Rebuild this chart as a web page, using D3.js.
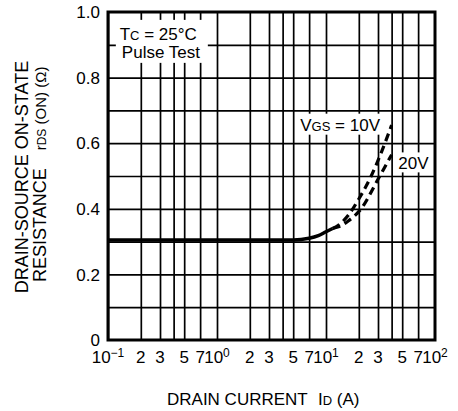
<!DOCTYPE html>
<html>
<head>
<meta charset="utf-8">
<script src="https://cdn.jsdelivr.net/npm/d3@7"></script>
<style>
body { margin: 0; background: #fff; }
text { font-family: "Liberation Sans", Arial, sans-serif; fill: #000; }
</style>
</head>
<body>
<svg></svg>
<script>
// drain current (A) vs on-state resistance (ohm)
var idSolid = [0.1, 1, 5, 7, 8.5, 10, 11.5];
var rSolid  = [0.305, 0.305, 0.305, 0.31, 0.318, 0.33, 0.34];
var id10 = [11.5, 13, 16, 20, 26, 32, 40];
var r10  = [0.34, 0.35, 0.38, 0.43, 0.50, 0.57, 0.655];
var id20 = [11.5, 13, 16, 21, 30, 40];
var r20  = [0.34, 0.345, 0.363, 0.40, 0.49, 0.565];

var decades = [0.1, 1, 10];
var gridMult = [1, 2, 3, 4, 5, 7];
var labelMult = [1, 2, 3, 5, 7];
var yGrid = [0.1, 0.2, 0.3, 0.4, 0.5, 0.6, 0.7, 0.8, 0.9];
var yTicks = [0, 0.2, 0.4, 0.6, 0.8, 1.0];
var yLabels = ["0", "0.2", "0.4", "0.6", "0.8", "1.0"];

var W = 458, H = 411;
var margin = {top: 12, right: 23, bottom: 71, left: 108};
var width = W - margin.left - margin.right;
var height = H - margin.top - margin.bottom;

var x = d3.scaleLog().domain([0.1, 100]).range([0, width]);
var y = d3.scaleLinear().domain([0, 1]).range([height, 0]);

var xGridVals = [];
decades.forEach(function(d) { gridMult.forEach(function(m) { xGridVals.push(d * m); }); });
var xLabelVals = [];
decades.forEach(function(d) { labelMult.forEach(function(m) { xLabelVals.push(d * m); }); });
xLabelVals.push(100);

var svg = d3.select("svg").attr("width", W).attr("height", H);
var g = svg.append("g").attr("transform", "translate(" + margin.left + "," + margin.top + ")");

// grid lines
g.append("g").attr("class", "grid").attr("transform", "translate(0," + height + ")")
	.call(d3.axisBottom(x).tickValues(xGridVals).tickSize(-height).tickFormat(""));
g.append("g").attr("class", "grid")
	.call(d3.axisLeft(y).tickValues(yGrid).tickSize(-width).tickFormat(""));
g.selectAll(".grid .domain").remove();
g.selectAll(".grid line").attr("stroke", "#000").attr("stroke-width", 1.7);

// white boxes behind the notes
g.append("rect").attr("x", x(0.118)).attr("y", y(0.976)).attr("width", 92).attr("height", 43).attr("fill", "#fff");
g.append("rect").attr("x", x(5.6)).attr("y", y(0.69)).attr("width", 88).attr("height", 21).attr("fill", "#fff");
g.append("rect").attr("x", x(44)).attr("y", y(0.572)).attr("width", 37).attr("height", 20).attr("fill", "#fff");

// frame
g.append("rect").attr("width", width).attr("height", height)
	.attr("fill", "none").attr("stroke", "#000").attr("stroke-width", 3);

var line = d3.line()
	.curve(d3.curveMonotoneX)
	.x(function(d) { return x(d[0]); })
	.y(function(d) { return y(d[1]); });

function pts(a, b) { return a.map(function(v, i) { return [v, b[i]]; }); }

g.append("path").attr("d", line(pts(idSolid, rSolid)))
	.attr("fill", "none").attr("stroke", "#000").attr("stroke-width", 3.5);
g.append("path").attr("d", line(pts(id10, r10)))
	.attr("fill", "none").attr("stroke", "#000").attr("stroke-width", 3.2).attr("stroke-dasharray", "8,5");
g.append("path").attr("d", line(pts(id20, r20)))
	.attr("fill", "none").attr("stroke", "#000").attr("stroke-width", 3.2).attr("stroke-dasharray", "8,5");

// y tick labels
g.selectAll(".ylab").data(yTicks).enter().append("text")
	.attr("x", -8).attr("y", function(d) { return y(d); }).attr("dy", "0.36em")
	.attr("text-anchor", "end").style("font-size", "17px")
	.text(function(d, i) { return yLabels[i]; });

// x tick labels
var xl = g.selectAll(".xlab").data(xLabelVals).enter().append("text")
	.attr("x", function(d) { return x(d); }).attr("y", height + 23)
	.attr("text-anchor", "middle").style("font-size", "17px");
xl.each(function(d) {
	var e = Math.round(Math.log10(d));
	var t = d3.select(this);
	if (Math.abs(Math.pow(10, e) - d) < 1e-9) {
		t.append("tspan").text("10");
		t.append("tspan").attr("dy", -6).style("font-size", "12px").text(e < 0 ? "\u2212" + (-e) : e);
	} else {
		t.text(Math.round(d / Math.pow(10, Math.floor(Math.log10(d) + 1e-9))));
	}
});

// notes
var tc = g.append("text").attr("x", x(0.128)).attr("y", y(0.915)).style("font-size", "17px");
tc.append("tspan").text("T");
tc.append("tspan").style("font-size", "13px").text("C");
tc.append("tspan").text(" = 25\u00B0C");
g.append("text").attr("x", x(0.134)).attr("y", y(0.86)).style("font-size", "17px").text("Pulse Test");

var vg = g.append("text").attr("x", x(5.8)).attr("y", y(0.636)).style("font-size", "17px");
vg.append("tspan").text("V");
vg.append("tspan").style("font-size", "13px").text("GS");
vg.append("tspan").text(" = 10V");
g.append("text").attr("x", x(46)).attr("y", y(0.52)).style("font-size", "17px").text("20V");

// axis titles
var xt = svg.append("text").attr("x", 167).attr("y", 405).style("font-size", "17px");
xt.append("tspan").text("DRAIN CURRENT");
xt.append("tspan").attr("x", 318).text("I");
xt.append("tspan").style("font-size", "13px").text("D");
xt.append("tspan").text(" (A)");

svg.append("text").attr("transform", "translate(28,177) rotate(-90)")
	.attr("text-anchor", "middle").style("font-size", "18px").text("DRAIN-SOURCE ON-STATE");
var yt = svg.append("text").attr("transform", "translate(46,282) rotate(-90)").style("font-size", "18px");
yt.append("tspan").text("RESISTANCE");
yt.append("tspan").attr("dx", 18).style("font-size", "15px").text("r");
yt.append("tspan").style("font-size", "12px").text("DS");
yt.append("tspan").style("font-size", "15px").text(" (ON) (\u03A9)");
</script>
</body>
</html>
